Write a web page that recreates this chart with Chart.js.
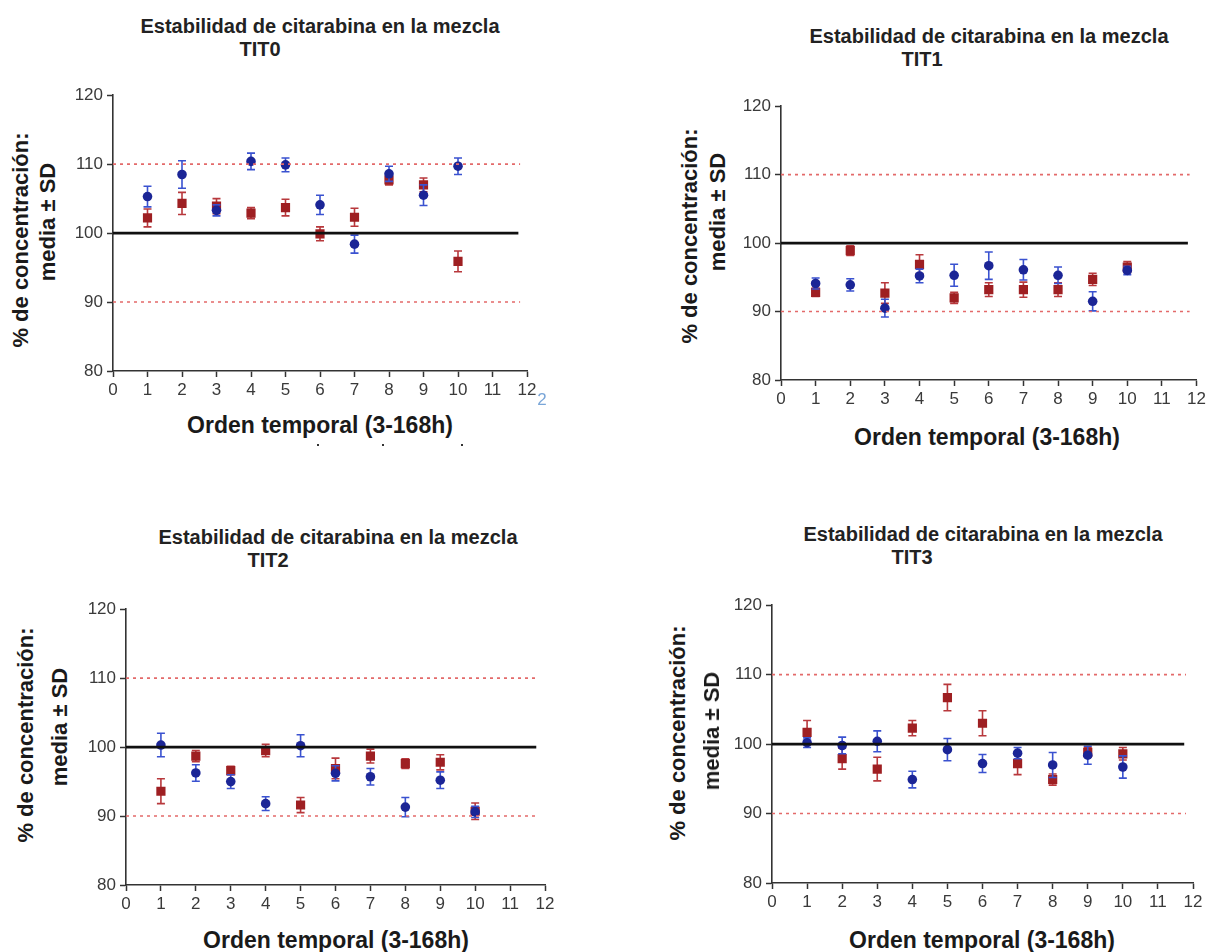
<!DOCTYPE html>
<html>
<head>
<meta charset="utf-8">
<script src="https://cdn.jsdelivr.net/npm/chart.js@4.4.1/dist/chart.umd.min.js"></script>
<style>
  html, body { margin: 0; padding: 0; background: #ffffff; }
  #wrap { position: relative; width: 1209px; height: 952px; overflow: hidden; background: #fff; }
  canvas { position: absolute; }
  .t { position: absolute; white-space: nowrap; font-family: "Liberation Sans", Arial, sans-serif; font-weight: bold; color: #222; transform: translate(-50%, -50%); line-height: 1; }
  .ttl { font-size: 20px; }
  .xt { font-size: 23px; color: #1a1a1a; }
  .yt { font-size: 22px; color: #1a1a1a; transform: translate(-50%, -50%) rotate(-90deg); }
  .art { position: absolute; font-family: "Liberation Sans", Arial, sans-serif; font-size: 17px; color: #7aa6d8; transform: translate(-50%, -50%); }
  .dot { position: absolute; width: 2px; height: 2px; background: #333; }
</style>
</head>
<body>
<div id="wrap">
  <canvas id="c0" width="478" height="322" style="left:63px;top:81px;"></canvas>
  <canvas id="c1" width="478" height="320" style="left:731px;top:92px;"></canvas>
  <canvas id="c2" width="483" height="322" style="left:76px;top:595px;"></canvas>
  <canvas id="c3" width="485" height="324" style="left:722px;top:591px;"></canvas>

  <div class="t ttl" style="left:320px;top:26px;">Estabilidad de citarabina en la mezcla</div>
  <div class="t ttl" style="left:260px;top:49px;">TIT0</div>
  <div class="t ttl" style="left:989px;top:36px;">Estabilidad de citarabina en la mezcla</div>
  <div class="t ttl" style="left:922px;top:59px;">TIT1</div>
  <div class="t ttl" style="left:338px;top:537px;">Estabilidad de citarabina en la mezcla</div>
  <div class="t ttl" style="left:268px;top:560px;">TIT2</div>
  <div class="t ttl" style="left:983px;top:534px;">Estabilidad de citarabina en la mezcla</div>
  <div class="t ttl" style="left:912px;top:557px;">TIT3</div>

  <div class="t xt" style="left:320px;top:425px;">Orden temporal (3-168h)</div>
  <div class="t xt" style="left:987px;top:437px;">Orden temporal (3-168h)</div>
  <div class="t xt" style="left:336px;top:940px;">Orden temporal (3-168h)</div>
  <div class="t xt" style="left:982px;top:940px;">Orden temporal (3-168h)</div>

  <div class="t yt" style="left:21px;top:240px;">% de concentración:</div>
  <div class="t yt" style="left:48px;top:222px;">media ± SD</div>
  <div class="t yt" style="left:690px;top:236px;">% de concentración:</div>
  <div class="t yt" style="left:718px;top:212px;">media ± SD</div>
  <div class="t yt" style="left:26px;top:735px;">% de concentración:</div>
  <div class="t yt" style="left:60px;top:727px;">media ± SD</div>
  <div class="t yt" style="left:678px;top:733px;">% de concentración:</div>
  <div class="t yt" style="left:712px;top:731px;">media ± SD</div>

  <div class="art" style="left:542px;top:400px;">2</div>
  <div class="dot" style="left:317px;top:444px;"></div>
  <div class="dot" style="left:382px;top:444px;"></div>
  <div class="dot" style="left:461px;top:444px;"></div>
</div>
<script>
// ---- data ----
const categories = [1, 2, 3, 4, 5, 6, 7, 8, 9, 10];
const xTickValues = [0, 1, 2, 3, 4, 5, 6, 7, 8, 9, 10, 11, 12];
const yTickValues = [80, 90, 100, 110, 120];
const limitLines = [90, 110];
const targetLine = 100;
const limitLineX = [0, 11.8];
const targetLineX = [0, 11.75];

const tit0Blue   = [105.3, 108.5, 103.3, 110.4, 109.9, 104.1, 98.4, 108.6, 105.5, 109.7];
const tit0BlueSD = [1.5, 2.0, 0.8, 1.2, 1.0, 1.4, 1.3, 1.1, 1.5, 1.2];
const tit0Red    = [102.2, 104.3, 103.9, 102.9, 103.7, 99.9, 102.3, 107.7, 107.0, 95.9];
const tit0RedSD  = [1.3, 1.6, 1.1, 0.8, 1.2, 1.0, 1.3, 0.7, 1.0, 1.5];

const tit1Blue   = [94.1, 93.9, 90.5, 95.2, 95.3, 96.7, 96.1, 95.3, 91.5, 96.0];
const tit1BlueSD = [0.8, 0.9, 1.3, 1.0, 1.6, 2.0, 1.5, 1.2, 1.4, 0.6];
const tit1Red    = [92.8, 98.9, 92.7, 96.9, 92.0, 93.2, 93.2, 93.2, 94.7, 96.5];
const tit1RedSD  = [0.6, 0.7, 1.5, 1.4, 0.8, 1.0, 1.1, 1.0, 0.9, 0.8];

const tit2Blue   = [100.3, 96.25, 95.0, 91.8, 100.2, 96.2, 95.7, 91.3, 95.2, 90.6];
const tit2BlueSD = [1.7, 1.2, 1.0, 1.0, 1.6, 1.1, 1.2, 1.4, 1.2, 0.8];
const tit2Red    = [93.6, 98.7, 96.6, 99.5, 91.6, 96.9, 98.7, 97.6, 97.8, 90.7];
const tit2RedSD  = [1.8, 0.8, 0.6, 0.9, 1.1, 1.5, 1.0, 0.7, 1.1, 1.2];

const tit3Blue   = [100.2, 99.8, 100.4, 94.9, 99.2, 97.2, 98.7, 97.0, 98.4, 96.7];
const tit3BlueSD = [0.7, 1.2, 1.5, 1.2, 1.6, 1.3, 0.8, 1.8, 1.3, 1.6];
const tit3Red    = [101.7, 97.9, 96.4, 102.3, 106.7, 103.0, 97.2, 94.9, 98.8, 98.6];
const tit3RedSD  = [1.7, 1.5, 1.7, 1.1, 1.9, 1.8, 1.6, 0.8, 0.7, 0.9];

// ---- styling ----
const BLUE = '#1b2596';
const BLUE_BAR = '#3a52d0';
const RED = '#9e1f22';
const RED_BAR = '#b8383c';
const LIMIT = '#e36a6a';
const AXIS = '#333333';

const errorBars = {
  id: 'errorBars',
  beforeDatasetDraw(chart, args) {
    const ds = chart.data.datasets[args.index];
    if (!ds.sd) return;
    const xs = chart.scales.x, ys = chart.scales.y;
    const ctx = chart.ctx;
    ctx.save();
    ctx.strokeStyle = ds.barColor;
    ctx.lineWidth = 1.6;
    ds.data.forEach((p, i) => {
      const px = xs.getPixelForValue(p.x);
      const top = ys.getPixelForValue(p.y + ds.sd[i]);
      const bot = ys.getPixelForValue(p.y - ds.sd[i]);
      ctx.beginPath();
      ctx.moveTo(px, top); ctx.lineTo(px, bot);
      ctx.moveTo(px - 4, top); ctx.lineTo(px + 4, top);
      ctx.moveTo(px - 4, bot); ctx.lineTo(px + 4, bot);
      ctx.stroke();
    });
    ctx.restore();
  }
};

function pts(vals) { return categories.map((c, i) => ({ x: c, y: vals[i] })); }
function hline(xr, v) { return xr.map(x => ({ x: x, y: v })); }

function makeChart(id, blue, blueSD, red, redSD, padRight) {
  const datasets = [];
  limitLines.forEach(v => datasets.push({
    type: 'line', data: hline(limitLineX, v), borderColor: LIMIT, borderWidth: 1.6,
    borderDash: [3, 4], pointRadius: 0, showLine: true, fill: false
  }));
  datasets.push({
    type: 'line', data: hline(targetLineX, targetLine), borderColor: '#111', borderWidth: 2.6,
    pointRadius: 0, showLine: true, fill: false
  });
  datasets.push({
    data: pts(blue), sd: blueSD, barColor: BLUE_BAR, pointStyle: 'circle', pointRadius: 4.8,
    backgroundColor: BLUE, borderColor: BLUE, borderWidth: 0
  });
  datasets.push({
    data: pts(red), sd: redSD, barColor: RED_BAR, pointStyle: 'rect', pointRadius: 6.5,
    backgroundColor: RED, borderColor: RED, borderWidth: 0
  });
  return new Chart(document.getElementById(id), {
    type: 'scatter',
    data: { datasets },
    plugins: [errorBars],
    options: {
      responsive: false, animation: false, devicePixelRatio: 1,
      layout: { padding: { top: 12, right: padRight, left: 0, bottom: 0 } },
      plugins: { legend: { display: false }, tooltip: { enabled: false }, title: { display: false } },
      scales: {
        x: {
          type: 'linear', min: xTickValues[0], max: xTickValues[xTickValues.length - 1],
          afterBuildTicks: s => { s.ticks = xTickValues.map(v => ({ value: v })); },
          afterFit: s => { s.height = 32; },
          ticks: { color: '#3a3a3a', font: { family: 'Liberation Sans', size: 17 }, padding: 3, maxRotation: 0, autoSkip: false },
          grid: { drawOnChartArea: false, drawTicks: true, tickLength: 6, tickColor: AXIS, tickWidth: 1.5 },
          border: { color: AXIS, width: 1.6 }
        },
        y: {
          type: 'linear', min: yTickValues[0], max: yTickValues[yTickValues.length - 1],
          afterBuildTicks: s => { s.ticks = yTickValues.map(v => ({ value: v })); },
          afterFit: s => { s.width = 50; },
          ticks: { color: '#3a3a3a', font: { family: 'Liberation Sans', size: 17 }, padding: 4, autoSkip: false },
          grid: { drawOnChartArea: false, drawTicks: true, tickLength: 6, tickColor: AXIS, tickWidth: 1.5 },
          border: { color: AXIS, width: 1.6 }
        }
      }
    }
  });
}

makeChart('c0', tit0Blue, tit0BlueSD, tit0Red, tit0RedSD, 14);
makeChart('c1', tit1Blue, tit1BlueSD, tit1Red, tit1RedSD, 12);
makeChart('c2', tit2Blue, tit2BlueSD, tit2Red, tit2RedSD, 14);
makeChart('c3', tit3Blue, tit3BlueSD, tit3Red, tit3RedSD, 14);
</script>
</body>
</html>
